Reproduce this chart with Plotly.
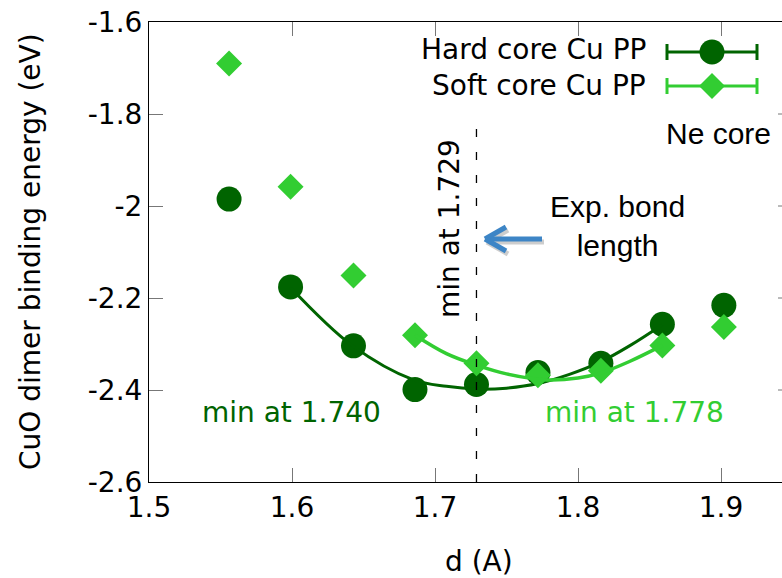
import plotly.graph_objects as go

# ---------------- data ----------------
d_vals = [1.556, 1.599, 1.643, 1.686, 1.729, 1.772, 1.816, 1.859, 1.902]
hard_E = [-1.985, -2.176, -2.304, -2.399, -2.388, -2.362, -2.342, -2.257, -2.216]
soft_E = [-1.690, -1.958, -2.151, -2.281, -2.342, -2.368, -2.358, -2.303, -2.263]

hard_fit_d = [1.599, 1.642, 1.685, 1.708, 1.729, 1.750, 1.772, 1.794, 1.815, 1.836, 1.859]
hard_fit_E = [-2.177, -2.303, -2.378, -2.392, -2.398, -2.396, -2.386, -2.366, -2.340, -2.304, -2.258]
soft_fit_d = [1.686, 1.708, 1.729, 1.750, 1.778, 1.800, 1.815, 1.836, 1.859]
soft_fit_E = [-2.281, -2.321, -2.346, -2.365, -2.378, -2.374, -2.364, -2.338, -2.303]

exp_bond = 1.729
x_ticks = [1.5, 1.6, 1.7, 1.8, 1.9]
x_ticktext = ["1.5", "1.6", "1.7", "1.8", "1.9"]
y_ticks = [-1.6, -1.8, -2.0, -2.2, -2.4, -2.6]
y_ticktext = ["-1.6", "-1.8", "-2", "-2.2", "-2.4", "-2.6"]

DARK = "#006400"
LIGHT = "#32CD32"
BLUE = "#3D85C6"
GF = "DejaVu Sans"
PF = "Liberation Sans"

W, H = 782, 578
L, R, T, B = 149, 0, 22, 96
PW, PH = W - L - R, H - T - B


def px(x):
    return (x - L) / PW


def py(y):
    return 1 - (y - T) / PH


fig = go.Figure()
fig.add_trace(go.Scatter(x=d_vals, y=hard_E, mode="markers",
                         marker=dict(color=DARK, size=25, symbol="circle"), showlegend=False))
fig.add_trace(go.Scatter(x=hard_fit_d, y=hard_fit_E, mode="lines",
                         line=dict(color=DARK, width=3, shape="spline", smoothing=1.0), showlegend=False))
fig.add_trace(go.Scatter(x=d_vals, y=soft_E, mode="markers",
                         marker=dict(color=LIGHT, size=20, symbol="diamond"), showlegend=False))
fig.add_trace(go.Scatter(x=soft_fit_d, y=soft_fit_E, mode="lines",
                         line=dict(color=LIGHT, width=3.5, shape="spline", smoothing=1.0), showlegend=False))

shapes = []
# dashed experimental bond length line
shapes.append(dict(type="line", xref="x", yref="y", x0=exp_bond, x1=exp_bond, y0=-2.6, y1=-1.81,
                   line=dict(color="black", width=1.3, dash="8px,15px")))
# right-side mirrored y ticks (right axis lies just beyond the image)
for yt in y_ticks[1:-1]:
    shapes.append(dict(type="line", xref="paper", yref="y", x0=px(778), x1=1.0, y0=yt, y1=yt,
                       line=dict(color="#777", width=1)))

# legend glyphs
for yy, col, sym in [(52, DARK, "circle"), (86, LIGHT, "diamond")]:
    shapes.append(dict(type="line", xref="paper", yref="paper", x0=px(667), x1=px(757),
                       y0=py(yy), y1=py(yy), line=dict(color=col, width=3)))
    for xc in (667, 757):
        shapes.append(dict(type="line", xref="paper", yref="paper", x0=px(xc), x1=px(xc),
                           y0=py(yy - 8), y1=py(yy + 8), line=dict(color=col, width=3)))
    if sym == "circle":
        shapes.append(dict(type="circle", xref="paper", yref="paper",
                           x0=px(712 - 12.5), x1=px(712 + 12.5), y0=py(yy + 12.5), y1=py(yy - 12.5),
                           fillcolor=col, line=dict(width=0)))
    else:
        r = 13
        path = "M {},{} L {},{} L {},{} L {},{} Z".format(
            px(712 - r), py(yy), px(712), py(yy - r), px(712 + r), py(yy), px(712), py(yy + r))
        shapes.append(dict(type="path", xref="paper", yref="paper", path=path,
                           fillcolor=col, line=dict(width=0)))

# blue arrow with soft shadow
for dx, dy, col in [(2, 3, "rgba(90,90,90,0.30)"), (0, 0, BLUE)]:
    shapes.append(dict(type="line", xref="paper", yref="paper", x0=px(542 + dx), x1=px(487 + dx),
                       y0=py(239 + dy), y1=py(239 + dy), line=dict(color=col, width=5)))
    for wy in (227, 251):
        shapes.append(dict(type="line", xref="paper", yref="paper", x0=px(485 + dx), x1=px(506 + dx),
                           y0=py(239 + dy), y1=py(wy + dy), line=dict(color=col, width=5)))

ann = []
ann.append(dict(x=px(648), y=py(50), xref="paper", yref="paper", text="Hard core Cu PP",
                xanchor="right", yanchor="middle", showarrow=False, font=dict(family=GF, size=28, color="black")))
ann.append(dict(x=px(648), y=py(85), xref="paper", yref="paper", text="Soft core Cu PP",
                xanchor="right", yanchor="middle", showarrow=False, font=dict(family=GF, size=28, color="black")))
ann.append(dict(x=px(718), y=py(133), xref="paper", yref="paper", text="Ne core",
                xanchor="center", yanchor="middle", showarrow=False, font=dict(family=PF, size=30, color="black")))
ann.append(dict(x=px(617), y=py(226), xref="paper", yref="paper", text="Exp. bond<br>length",
                xanchor="center", yanchor="middle", showarrow=False, font=dict(family=PF, size=30, color="black")))
ann.append(dict(x=px(450), y=py(229), xref="paper", yref="paper", text="min at 1.729", textangle=-90,
                xanchor="center", yanchor="middle", showarrow=False, font=dict(family=GF, size=28, color="black")))
ann.append(dict(x=px(291), y=py(412), xref="paper", yref="paper", text="min at 1.740",
                xanchor="center", yanchor="middle", showarrow=False, font=dict(family=GF, size=28, color=DARK)))
ann.append(dict(x=px(634), y=py(412), xref="paper", yref="paper", text="min at 1.778",
                xanchor="center", yanchor="middle", showarrow=False, font=dict(family=GF, size=28, color=LIGHT)))
ann.append(dict(x=px(479), y=py(561), xref="paper", yref="paper", text="d (A)",
                xanchor="center", yanchor="middle", showarrow=False, font=dict(family=GF, size=28, color="black")))
ann.append(dict(x=px(30), y=py(252), xref="paper", yref="paper", text="CuO dimer binding energy (eV)",
                textangle=-90, xanchor="center", yanchor="middle", showarrow=False,
                font=dict(family=GF, size=28, color="black")))

fig.update_layout(
    width=W, height=H, margin=dict(l=L, r=R, t=T, b=B, pad=0),
    paper_bgcolor="white", plot_bgcolor="white",
    shapes=shapes, annotations=ann, showlegend=False,
    xaxis=dict(range=[1.5, 1.5 + PW / 1430.0], tickvals=x_ticks, ticktext=x_ticktext,
               ticks="inside", ticklen=14, tickcolor="#777", tickwidth=1,
               showline=True, linecolor="black", linewidth=1, mirror="ticks",
               showgrid=False, zeroline=False, tickfont=dict(family=GF, size=28, color="black")),
    yaxis=dict(range=[-2.6, -1.6], tickvals=y_ticks, ticktext=y_ticktext,
               ticks="inside", ticklen=14, tickcolor="#777", tickwidth=1,
               showline=True, linecolor="black", linewidth=1, mirror=False,
               showgrid=False, zeroline=False, tickfont=dict(family=GF, size=28, color="black")),
)

fig.write_html("out.html")
